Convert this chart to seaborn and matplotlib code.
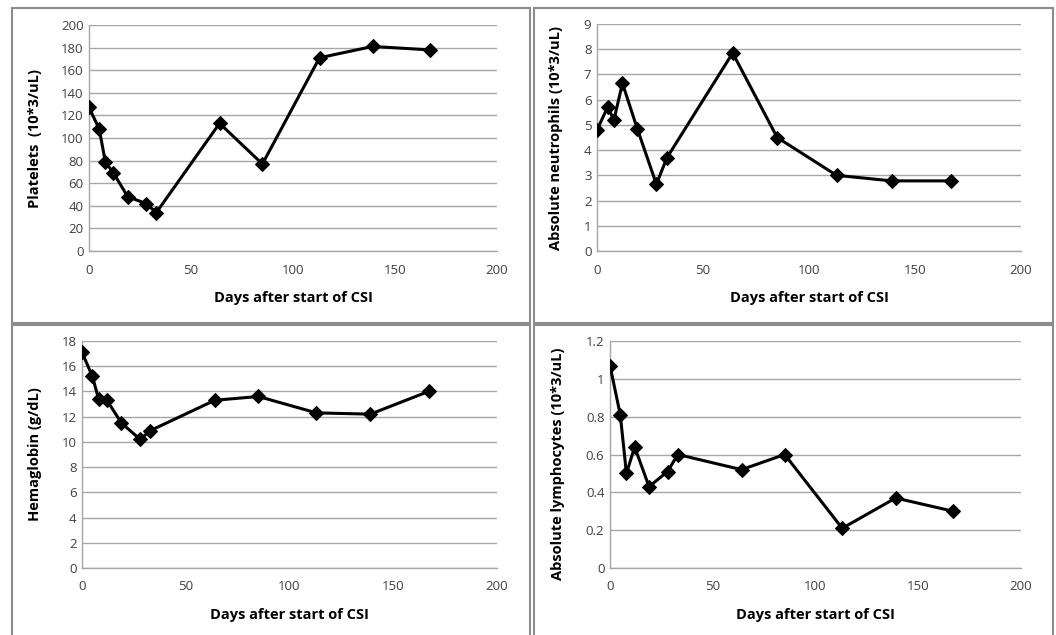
import pandas as pd
import matplotlib.pyplot as plt
import matplotlib.patches as patches
import seaborn as sns

# Datos
days = [0, 5, 8, 12, 19, 28, 33, 64, 85, 113, 139, 167]
platelets = [127, 108, 79, 69, 48, 42, 34, 113, 77, 171, 181, 178]
neutrophils = [4.8, 5.7, 5.2, 6.65, 4.85, 2.65, 3.7, 7.85, 4.5, 3.0, 2.78, 2.78]
hemoglobin = [17.1, 15.2, 13.4, 13.3, 11.5, 10.2, 10.9, 13.3, 13.6, 12.3, 12.2, 14.0]
lymphocytes = [1.07, 0.81, 0.50, 0.64, 0.43, 0.51, 0.60, 0.52, 0.60, 0.21, 0.37, 0.30]

df = pd.DataFrame({'Days': days, 'Platelets': platelets, 'Neutrophils': neutrophils,
                   'Hemoglobin': hemoglobin, 'Lymphocytes': lymphocytes})

sns.set_style("white")
plt.rcParams['font.family'] = ['Open Sans', 'DejaVu Sans']

W, H = 1056, 635
fig = plt.figure(figsize=(W / 100, H / 100), dpi=100)
fig.patch.set_facecolor('white')

def px_axes(left, top, right, bottom):
    return fig.add_axes([left / W, (H - bottom) / H, (right - left) / W, (bottom - top) / H])

def px_box(left, top, right, bottom):
    rect = patches.Rectangle((left / W, (H - bottom) / H), (right - left) / W, (bottom - top) / H,
                             transform=fig.transFigure, fill=False, edgecolor='#8c8c8c', linewidth=1.5)
    fig.patches.append(rect)

# Marcos de cada panel
px_box(12, 8, 530, 323)
px_box(534, 8, 1053, 323)
px_box(12, 325, 530, 640)
px_box(534, 325, 1053, 640)

panels = [
    ('Platelets', 'Platelets  (10*3/uL)', (89, 25, 497, 251), 200, 20, (-0.115, 0.5)),
    ('Neutrophils', 'Absolute neutrophils (10*3/uL)', (597, 24, 1021, 251), 9, 1, (-0.08, 0.5)),
    ('Hemoglobin', 'Hemaglobin (g/dL)', (82, 341, 497, 568), 18, 2, (-0.096, 0.5)),
    ('Lymphocytes', 'Absolute lymphocytes (10*3/uL)', (610, 341, 1021, 568), 1.2, 0.2, (-0.11, 0.46)),
]

for col, ylabel, box, ymax, ystep, ylab_pos in panels:
    ax = px_axes(*box)
    sns.lineplot(x='Days', y=col, data=df, ax=ax, color='black', linewidth=2.2,
                 marker='D', markersize=7, markeredgecolor='black', zorder=3)
    ax.set_xlim(0, 200)
    ax.set_ylim(0, ymax)
    ax.set_xticks(range(0, 201, 50))
    n = int(round(ymax / ystep))
    yt = [round(i * ystep, 2) for i in range(n + 1)]
    ax.set_yticks(yt)
    ax.set_yticklabels([f'{v:g}' for v in yt])
    ax.grid(axis='y', color='#a6a6a6', linewidth=1.0)
    ax.grid(axis='x', visible=False)
    for s in ['top', 'right']:
        ax.spines[s].set_visible(False)
    for s in ['left', 'bottom']:
        ax.spines[s].set_color('#a6a6a6')
        ax.spines[s].set_linewidth(1.0)
    ax.tick_params(axis='both', length=0, labelsize=9.5, colors='#404040')
    ax.tick_params(axis='x', pad=9)
    ax.tick_params(axis='y', pad=4)
    ax.set_xlabel('Days after start of CSI', fontsize=10.5, fontweight='bold', color='black')
    ax.set_ylabel(ylabel, fontsize=10.5, fontweight='bold', color='black')
    ax.xaxis.set_label_coords(0.5, -0.175)
    ax.yaxis.set_label_coords(*ylab_pos)

plt.savefig('out.png', dpi=100, facecolor='white')
plt.close(fig)
